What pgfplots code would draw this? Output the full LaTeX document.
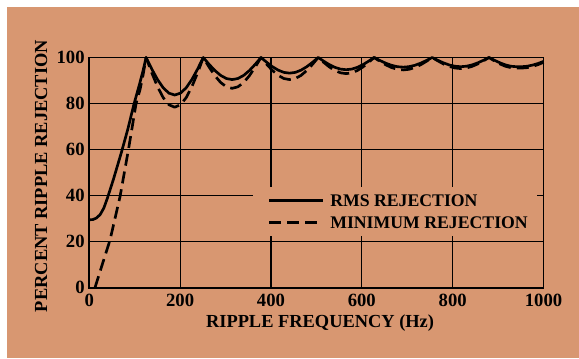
\documentclass[border=0pt]{standalone}
\usepackage{pgfplots}
\pgfplotsset{compat=1.18}
\usepackage{fontspec}
\setmainfont{Liberation Serif}
\definecolor{bgtan}{RGB}{216,151,113}
\begin{document}
\begin{tikzpicture}
\fill[white] (0pt,0pt) rectangle (434.25pt,268.5pt);
\fill[bgtan] (5.5pt,0pt) rectangle (434.25pt,263pt);
\begin{axis}[
  at={(66.98pt,52.73pt)}, anchor=south west,
  scale only axis, width=340.65pt, height=172.65pt,
  xmin=0, xmax=1000, ymin=0, ymax=100,
  enlargelimits=false, clip=false,
  xtick={0,200,...,1000}, ytick={0,20,...,100},
  major tick length=0pt, tick style={draw=none},
  grid=major, major grid style={black, line width=0.95pt},
  axis line style={black, line width=1.3pt},
  /pgf/number format/assume math mode=true,
  /pgf/number format/1000 sep={},
  tick label style={font=\fontsize{14}{16}\selectfont\bfseries, text=black},
  xticklabel style={yshift=-1pt},
  xlabel={RIPPLE FREQUENCY (Hz)},
  ylabel={PERCENT RIPPLE REJECTION},
  label style={font=\fontsize{13.8}{16}\selectfont\bfseries},
  xlabel style={at={(axis description cs:0.508,-0.175)}, anchor=base},
  ylabel style={at={(axis description cs:-0.1063,0.485)}, anchor=center},
  legend style={at={(0.3604,0.4374)}, anchor=north west, fill=bgtan, draw=none,
    inner xsep=6.75pt, inner ysep=5.3pt, row sep=7.8pt,
    font=\fontsize{13.3}{15}\selectfont\bfseries,
    nodes={inner sep=0pt, text height=9pt, text depth=0pt}},
  legend cell align=left,
  legend image code/.code={\path[draw=none,fill=none] (0pt,0pt) -- (51pt,0pt); \draw[#1] (5.25pt,0pt) -- (45.75pt,0pt);},
]
\addplot[black, line width=2pt, line join=round] coordinates {
(0,29.5)(8,29.6)(16,30.3)(24,31.8)(32,34.6)(40,39)(53,47)(71,59)(85,69)(98,79.5)(110,88)(118,94)(125,100)
(137.6,94.96)(150.2,90.42)(162.8,86.81)(175.4,84.50)(188,83.70)(200.6,84.50)(213.2,86.81)(225.8,90.42)(238.4,94.96)(251,100)
(263.7,97.03)(276.4,94.36)(289.1,92.23)(301.8,90.87)(314.5,90.4)(327.2,90.87)(339.9,92.23)(352.6,94.36)(365.3,97.03)(378,100)
(390.6,97.90)(403.2,96.00)(415.8,94.50)(428.4,93.53)(441,93.2)(453.6,93.53)(466.2,94.50)(478.8,96.00)(491.4,97.90)(504,100)
(516.3,98.36)(528.6,96.88)(540.9,95.71)(553.2,94.96)(565.5,94.7)(577.8,94.96)(590.1,95.71)(602.4,96.88)(614.7,98.36)(627,100)
(639.8,98.70)(652.6,97.53)(665.4,96.60)(678.2,96.01)(691,95.8)(703.8,96.01)(716.6,96.60)(729.4,97.53)(742.2,98.70)(755,100)
(767.5,98.76)(780,97.65)(792.5,96.76)(805,96.20)(817.5,96.0)(830,96.20)(842.5,96.76)(855,97.65)(867.5,98.76)(880,100)
(892,98.8)(904,97.7)(916,96.8)(928,96.2)(940,96.0)(952,96.0)(964,96.2)(976,96.7)(988,97.4)(1000,98.3)
};
\addlegendentry{RMS REJECTION}
\addplot[black, line width=2pt, line join=round, dash pattern=on 9pt off 4.5pt] coordinates {
(12.5,0)(30,11)(45.6,20.7)(67.6,39.5)(86,59.8)(103,80)(111.6,86)(118,92)(125,100)
(137.6,93.33)(150.2,87.30)(162.8,82.53)(175.4,79.46)(188,78.40)(200.6,79.46)(213.2,82.53)(225.8,87.30)(238.4,93.33)(251,100)
(263.7,95.86)(276.4,92.12)(289.1,89.16)(301.8,87.26)(314.5,86.6)(327.2,87.26)(339.9,89.16)(352.6,92.12)(365.3,95.86)(378,100)
(390.6,97.03)(403.2,94.36)(415.8,92.23)(428.4,90.87)(441,90.4)(453.6,90.87)(466.2,92.23)(478.8,94.36)(491.4,97.03)(504,100)
(516.3,97.84)(528.6,95.88)(540.9,94.34)(553.2,93.34)(565.5,93.0)(577.8,93.34)(590.1,94.34)(602.4,95.88)(614.7,97.84)(627,100)
(639.8,98.33)(652.6,96.82)(665.4,95.63)(678.2,94.86)(691,94.6)(703.8,94.86)(716.6,95.63)(729.4,96.82)(742.2,98.33)(755,100)
(767.5,98.52)(780,97.18)(792.5,96.12)(805,95.44)(817.5,95.2)(830,95.44)(842.5,96.12)(855,97.18)(867.5,98.52)(880,100)
(892,98.5)(904,97.2)(916,96.2)(928,95.6)(940,95.4)(952,95.4)(964,95.6)(976,96.1)(988,96.9)(1000,97.9)
};
\addlegendentry{MINIMUM REJECTION}
\end{axis}
\end{tikzpicture}
\end{document}
